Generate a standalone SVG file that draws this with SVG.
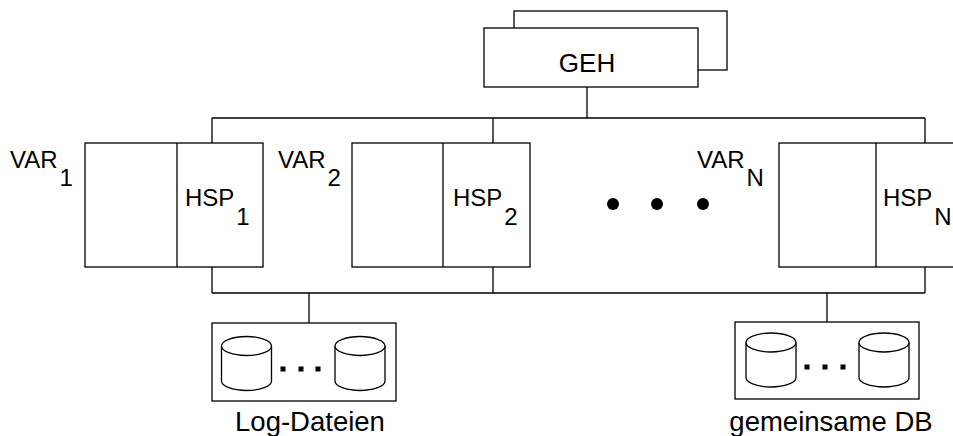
<svg xmlns="http://www.w3.org/2000/svg" width="953" height="436" viewBox="0 0 953 436">
<style>
.b{fill:#fff;stroke:#000;stroke-width:1.3}
.l{fill:none;stroke:#000;stroke-width:1.3}
.t{font-family:"Liberation Sans",Arial,sans-serif;font-size:24px;fill:#000}
.g{font-size:26px}
.c{font-size:27.5px}
.d{fill:#000}
</style>
<defs>
<g id="cyl">
<path class="b" d="M-25,0 V35 A25,9.5 0 0 0 25,35 V0"/>
<ellipse class="b" cx="0" cy="0" rx="25" ry="9.5"/>
</g>
</defs>
<rect width="953" height="436" fill="#fff"/>
<g id="connectors">
<path class="l" d="M587,87 V118 M212,118 H925 M212,118 V143 M493,118 V143 M925,118 V143"/>
<path class="l" d="M212,267 V293 M493,267 V293 M925,267 V293 M212,293 H925 M309,293 V323 M827,293 V322"/>
</g>
<g id="geh">
<rect class="b" x="514" y="11" width="213" height="59"/>
<rect class="b" x="484" y="28" width="214" height="59"/>
<text class="t g" x="587" y="72" text-anchor="middle">GEH</text>
</g>
<g id="var1">
<rect class="b" x="85" y="143" width="178" height="124"/>
<path class="l" d="M177,143 V267"/>
<text class="t" x="10" y="168">VAR<tspan dx="2" dy="18">1</tspan></text>
<text class="t" x="185" y="206">HSP<tspan dx="2" dy="19">1</tspan></text>
</g>
<g id="var2">
<rect class="b" x="352" y="143" width="178" height="124"/>
<path class="l" d="M443,143 V267"/>
<text class="t" x="278" y="168">VAR<tspan dx="2" dy="18">2</tspan></text>
<text class="t" x="453" y="206">HSP<tspan dx="2" dy="19">2</tspan></text>
</g>
<g id="dots">
<circle class="d" cx="613" cy="204" r="6"/>
<circle class="d" cx="657" cy="204" r="6"/>
<circle class="d" cx="703" cy="204" r="6"/>
</g>
<g id="varN">
<rect class="b" x="779" y="143" width="178" height="124"/>
<path class="l" d="M876,143 V267"/>
<text class="t" x="697" y="168">VAR<tspan dx="2" dy="18">N</tspan></text>
<text class="t" x="883" y="206">HSP<tspan dx="2" dy="19">N</tspan></text>
</g>
<g id="log">
<rect class="b" x="212" y="323" width="184" height="78"/>
<use href="#cyl" x="246.5" y="346"/>
<use href="#cyl" x="360" y="346"/>
<rect class="d" x="280.5" y="366.5" width="5" height="5"/>
<rect class="d" x="298.5" y="366.5" width="5" height="5"/>
<rect class="d" x="315.5" y="366.5" width="5" height="5"/>
<text class="t c" x="310" y="431" text-anchor="middle">Log-Dateien</text>
</g>
<g id="db">
<rect class="b" x="735" y="322" width="184" height="77"/>
<use href="#cyl" x="771" y="342.5"/>
<use href="#cyl" x="884" y="342.5"/>
<rect class="d" x="804.5" y="364.5" width="5" height="5"/>
<rect class="d" x="822.5" y="364.5" width="5" height="5"/>
<rect class="d" x="840.5" y="364.5" width="5" height="5"/>
<text class="t c" x="831" y="431" text-anchor="middle">gemeinsame DB</text>
</g>
</svg>
